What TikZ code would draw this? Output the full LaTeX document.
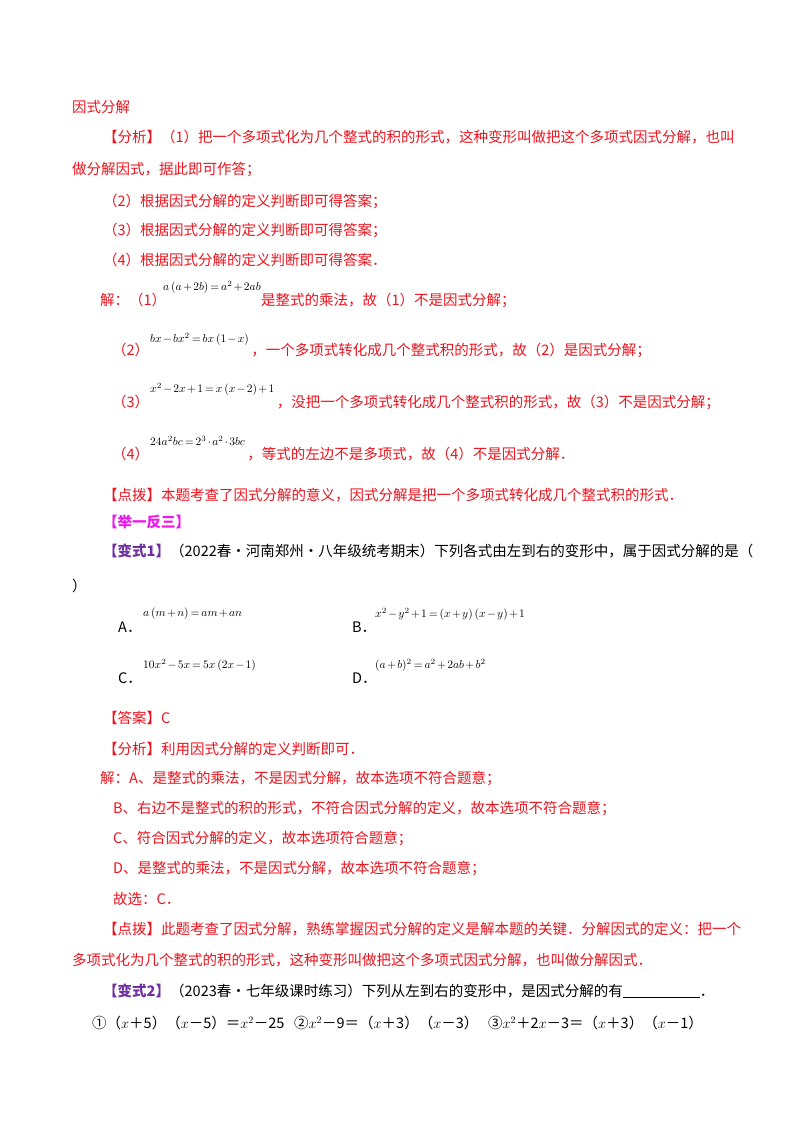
\documentclass[tikz,border=0pt]{standalone}
\usepackage{fontspec}
\newfontfamily\cjk{Noto Sans CJK SC}
\definecolor{rd}{RGB}{235,20,30}
\definecolor{mg}{RGB}{240,20,240}
\definecolor{pu}{RGB}{112,48,160}
\tikzset{tx/.style={anchor=west,inner sep=0pt,font=\cjk\fontsize{14.5}{16}\selectfont},
 mx/.style={anchor=west,inner sep=0pt,scale=1.15,transform shape,
   execute at begin node={\medmuskip=2mu\thickmuskip=3mu}}}
\begin{document}
\begin{tikzpicture}[x=1pt,y=-1pt]
\useasboundingbox (0,0) rectangle (800,1132);
\fill[white] (0,0) rectangle (800,1132);
\node[tx,rd] (a1) at (72,107) {因式分解};
\node[tx,rd] (a2) at (103,137) {【分析】（1）把一个多项式化为几个整式的积的形式，这种变形叫做把这个多项式因式分解，也叫};
\node[tx,rd] (a3) at (72,170) {做分解因式，据此即可作答；};
\node[tx,rd] (a4) at (103,201) {（2）根据因式分解的定义判断即可得答案；};
\node[tx,rd] (a5) at (103,230) {（3）根据因式分解的定义判断即可得答案；};
\node[tx,rd] (a6) at (103,260) {（4）根据因式分解的定义判断即可得答案．};
\node[tx,rd] (b1) at (100,300) {解：（1）};
\node[mx] (b1m) at (163,287) {$a\left(a+2b\right)=a^2+2ab$};
\node[tx,rd] (b1t) at (b1m.east |- b1) {是整式的乘法，故（1）不是因式分解；};
\node[tx,rd] (b2) at (112,350) {（2）};
\node[mx] (b2m) at (150,339) {$bx-bx^2=bx\left(1-x\right)$};
\node[tx,rd] (b2t) at ([xshift=2pt]b2m.east |- b2) {，一个多项式转化成几个整式积的形式，故（2）是因式分解；};
\node[tx,rd] (b3) at (112,402) {（3）};
\node[mx] (b3m) at (150,389) {$x^2-2x+1=x\left(x-2\right)+1$};
\node[tx,rd] (b3t) at ([xshift=2pt]b3m.east |- b3) {，没把一个多项式转化成几个整式积的形式，故（3）不是因式分解；};
\node[tx,rd] (b4) at (112,454) {（4）};
\node[mx] (b4m) at (150,441) {$24a^2bc=2^3\cdot a^2\cdot 3bc$};
\node[tx,rd] (b4t) at ([xshift=2pt]b4m.east |- b4) {，等式的左边不是多项式，故（4）不是因式分解．};
\node[tx,rd] (c1) at (103,495) {【点拨】本题考查了因式分解的意义，因式分解是把一个多项式转化成几个整式积的形式．};
\node[tx,mg] (c2) at (103,522) {\bfseries【举一反三】};
\node[tx,pu] (c3) at (103,551) {\bfseries【变式1】};
\node[tx] (c3t) at (170,551) {（2022春·河南郑州·八年级统考期末）下列各式由左到右的变形中，属于因式分解的是（};
\node[tx] (c4) at (72,586) {）};
\node[tx] (dA) at (118,627) {A．};
\node[mx] (dAm) at (143,614) {$a\left(m+n\right)=am+an$};
\node[tx] (dB) at (352,627) {B．};
\node[mx] (dBm) at (375,614) {$x^2-y^2+1=\left(x+y\right)\left(x-y\right)+1$};
\node[tx] (dC) at (118,678) {C．};
\node[mx] (dCm) at (143,665) {$10x^2-5x=5x\left(2x-1\right)$};
\node[tx] (dD) at (352,678) {D．};
\node[mx] (dDm) at (375,665) {$(a+b)^2=a^2+2ab+b^2$};
\node[tx,rd] (e1) at (103,718) {【答案】C};
\node[tx,rd] (e2) at (103,749) {【分析】利用因式分解的定义判断即可．};
\node[tx,rd] (e3) at (100,779) {解：A、是整式的乘法，不是因式分解，故本选项不符合题意；};
\node[tx,rd] (e4) at (113,809) {B、右边不是整式的积的形式，不符合因式分解的定义，故本选项不符合题意；};
\node[tx,rd] (e5) at (113,839) {C、符合因式分解的定义，故本选项符合题意；};
\node[tx,rd] (e6) at (113,869) {D、是整式的乘法，不是因式分解，故本选项不符合题意；};
\node[tx,rd] (e7) at (113,899) {故选：C．};
\node[tx,rd] (e8) at (103,929) {【点拨】此题考查了因式分解，熟练掌握因式分解的定义是解本题的关键．分解因式的定义：把一个};
\node[tx,rd] (e9) at (72,960) {多项式化为几个整式的积的形式，这种变形叫做把这个多项式因式分解，也叫做分解因式．};
\node[tx,pu] (f1) at (103,991) {\bfseries【变式2】};
\node[tx] (f1t) at (170,991) {（2023春·七年级课时练习）下列从左到右的变形中，是因式分解的有\rule[-2pt]{77pt}{1pt}．};
\node[tx] (f2) at (92,1023) {①（$x$＋5）（$x$－5）＝$x^2$－25\ \ \ ②$x^2$－9＝（$x$＋3）（$x$－3）\ \ \ ③$x^2$＋2$x$－3＝（$x$＋3）（$x$－1）};
\end{tikzpicture}
\end{document}
